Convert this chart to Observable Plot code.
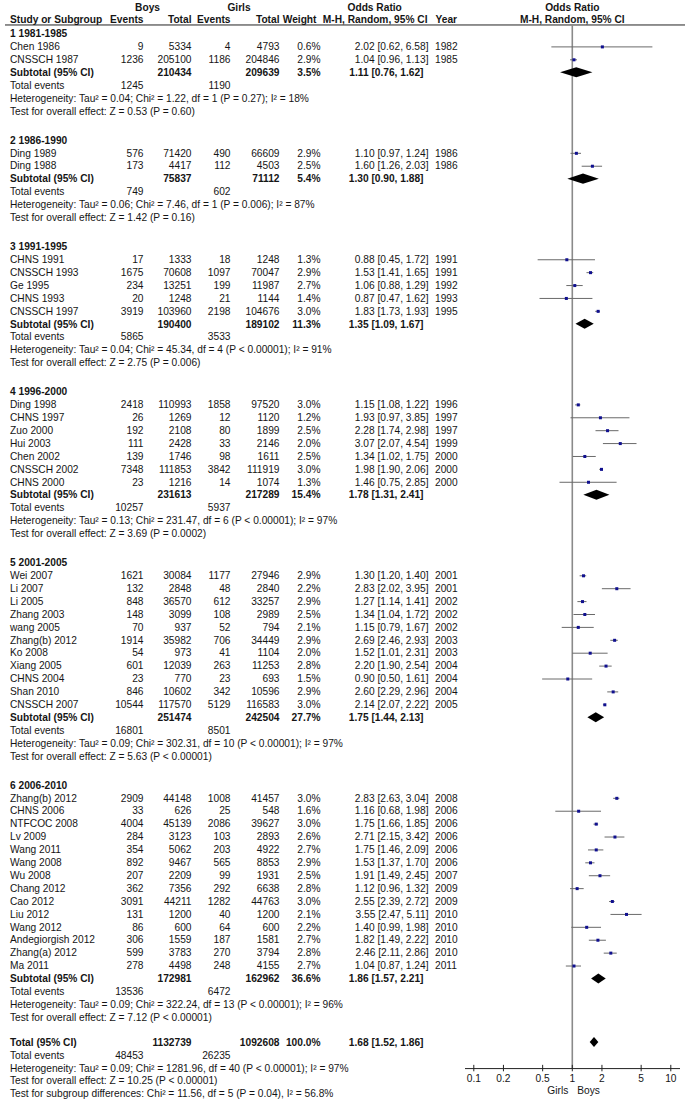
<!DOCTYPE html>
<html><head><meta charset="utf-8">
<script src="https://cdn.jsdelivr.net/npm/d3@7"></script>
<script src="https://cdn.jsdelivr.net/npm/@observablehq/plot@0.6"></script>
<style>body{margin:0;background:#fff;} #chart svg{display:block;}</style>
</head><body><div id="chart"></div>
<script>
// ---------- DATA ----------
const groupLabels = ["1 1981-1985","2 1986-1990","3 1991-1995","4 1996-2000","5 2001-2005","6 2006-2010"];
const studyGroup = [0,0, 1,1, 2,2,2,2,2, 3,3,3,3,3,3,3, 4,4,4,4,4,4,4,4,4,4,4, 5,5,5,5,5,5,5,5,5,5,5,5,5,5];
const studyNames = ["Chen 1986","CNSSCH 1987",
  "Ding 1989","Ding 1988",
  "CHNS 1991","CNSSCH 1993","Ge 1995","CHNS 1993","CNSSCH 1997",
  "Ding 1998","CHNS 1997","Zuo 2000","Hui 2003","Chen 2002","CNSSCH 2002","CHNS 2000",
  "Wei 2007","Li 2007","Li 2005","Zhang 2003","wang 2005","Zhang(b) 2012","Ko 2008","Xiang 2005","CHNS 2004","Shan 2010","CNSSCH 2007",
  "Zhang(b) 2012","CHNS 2006","NTFCOC 2008","Lv 2009","Wang 2011","Wang 2008","Wu 2008","Chang 2012","Cao 2012","Liu 2012","Wang 2012","Andegiorgish 2012","Zhang(a) 2012","Ma 2011"];
const boysEvents = [9,1236, 576,173, 17,1675,234,20,3919, 2418,26,192,111,139,7348,23,
  1621,132,848,148,70,1914,54,601,23,846,10544,
  2909,33,4004,284,354,892,207,362,3091,131,86,306,599,278];
const boysTotal = [5334,205100, 71420,4417, 1333,70608,13251,1248,103960, 110993,1269,2108,2428,1746,111853,1216,
  30084,2848,36570,3099,937,35982,973,12039,770,10602,117570,
  44148,626,45139,3123,5062,9467,2209,7356,44211,1200,600,1559,3783,4498];
const girlsEvents = [4,1186, 490,112, 18,1097,199,21,2198, 1858,12,80,33,98,3842,14,
  1177,48,612,108,52,706,41,263,23,342,5129,
  1008,25,2086,103,203,565,99,292,1282,40,64,187,270,248];
const girlsTotal = [4793,204846, 66609,4503, 1248,70047,11987,1144,104676, 97520,1120,1899,2146,1611,111919,1074,
  27946,2840,33257,2989,794,34449,1104,11253,693,10596,116583,
  41457,548,39627,2893,4922,8853,1931,6638,44763,1200,600,1581,3794,4155];
const weights = [0.6,2.9, 2.9,2.5, 1.3,2.9,2.7,1.4,3.0, 3.0,1.2,2.5,2.0,2.5,3.0,1.3,
  2.9,2.2,2.9,2.5,2.1,2.9,2.0,2.8,1.5,2.9,3.0,
  3.0,1.6,3.0,2.6,2.7,2.9,2.5,2.8,3.0,2.1,2.2,2.7,2.8,2.7];
const oddsRatio = [2.02,1.04, 1.10,1.60, 0.88,1.53,1.06,0.87,1.83, 1.15,1.93,2.28,3.07,1.34,1.98,1.46,
  1.30,2.83,1.27,1.34,1.15,2.69,1.52,2.20,0.90,2.60,2.14,
  2.83,1.16,1.75,2.71,1.75,1.53,1.91,1.12,2.55,3.55,1.40,1.82,2.46,1.04];
const ciLow = [0.62,0.96, 0.97,1.26, 0.45,1.41,0.88,0.47,1.73, 1.08,0.97,1.74,2.07,1.02,1.90,0.75,
  1.20,2.02,1.14,1.04,0.79,2.46,1.01,1.90,0.50,2.29,2.07,
  2.63,0.68,1.66,2.15,1.46,1.37,1.49,0.96,2.39,2.47,0.99,1.49,2.11,0.87];
const ciHigh = [6.58,1.13, 1.24,2.03, 1.72,1.65,1.29,1.62,1.93, 1.22,3.85,2.98,4.54,1.75,2.06,2.85,
  1.40,3.95,1.41,1.72,1.67,2.93,2.31,2.54,1.61,2.96,2.22,
  3.04,1.98,1.85,3.42,2.09,1.70,2.45,1.32,2.72,5.11,1.98,2.22,2.86,1.24];
const studyYears = [1982,1985, 1986,1986, 1991,1991,1992,1993,1995, 1996,1997,1997,1999,2000,2000,2000,
  2001,2001,2002,2002,2002,2003,2003,2004,2004,2004,2005,
  2008,2006,2006,2006,2006,2006,2007,2009,2009,2010,2010,2010,2010,2011];

const subBoysTotal = [210434,75837,190400,231613,251474,172981];
const subGirlsTotal = [209639,71112,189102,217289,242504,162962];
const subWeight = [3.5,5.4,11.3,15.4,27.7,36.6];
const subOR = [1.11,1.30,1.35,1.78,1.75,1.86];
const subLow = [0.76,0.90,1.09,1.31,1.44,1.57];
const subHigh = [1.62,1.88,1.67,2.41,2.13,2.21];
const subBoysEvents = [1245,749,5865,10257,16801,13536];
const subGirlsEvents = [1190,602,3533,5937,8501,6472];
const subHet = [
  "Heterogeneity: Tau² = 0.04; Chi² = 1.22, df = 1 (P = 0.27); I² = 18%",
  "Heterogeneity: Tau² = 0.06; Chi² = 7.46, df = 1 (P = 0.006); I² = 87%",
  "Heterogeneity: Tau² = 0.04; Chi² = 45.34, df = 4 (P < 0.00001); I² = 91%",
  "Heterogeneity: Tau² = 0.13; Chi² = 231.47, df = 6 (P < 0.00001); I² = 97%",
  "Heterogeneity: Tau² = 0.09; Chi² = 302.31, df = 10 (P < 0.00001); I² = 97%",
  "Heterogeneity: Tau² = 0.09; Chi² = 322.24, df = 13 (P < 0.00001); I² = 96%"];
const subTest = [
  "Test for overall effect: Z = 0.53 (P = 0.60)",
  "Test for overall effect: Z = 1.42 (P = 0.16)",
  "Test for overall effect: Z = 2.75 (P = 0.006)",
  "Test for overall effect: Z = 3.69 (P = 0.0002)",
  "Test for overall effect: Z = 5.63 (P < 0.00001)",
  "Test for overall effect: Z = 7.12 (P < 0.00001)"];

const totalTotals = [1132739, 1092608];      // boys, girls
const totalEvents = [48453, 26235];          // boys, girls
const totalWeight = [100.0];
const totalEstimate = [1.68, 1.52, 1.86];    // OR, low, high
const totalTexts = [
  "Heterogeneity: Tau² = 0.09; Chi² = 1281.96, df = 40 (P < 0.00001); I² = 97%",
  "Test for overall effect: Z = 10.25 (P < 0.00001)",
  "Test for subgroup differences: Chi² = 11.56, df = 5 (P = 0.04), I² = 56.8%"];

const tickValues = [0.1, 0.2, 0.5, 1, 2, 5, 10];
const tickLabels = ["0.1","0.2","0.5","1","2","5","10"];
const favourLabels = ["Girls", "Boys"];

// ---------- LAYOUT ----------
const W = 689, H = 1106;
const ROW = 12.9, TOP = 33.5;       // px per row, first row centre
const GAP = 1.25, LAST_GAP = 0.93;  // extra blank rows between blocks
const COLS = {
  name:[9.5,"start"], bEv:[143,"end"], bTot:[191,"end"], gEv:[230,"end"], gTot:[279,"end"],
  wt:[320,"end"], ci:[428,"end"], ciB:[423,"end"], year:[434.5,"start"],
  hBoys:[147,"middle"], hGirls:[238.5,"middle"], hOR:[347,"start"], hWt:[316,"end"], hCI:[427,"end"], hYear:[435,"start"]
};
const fmtCI = (o,l,h) => `${o.toFixed(2)} [${l.toFixed(2)}, ${h.toFixed(2)}]`;

const cells = [], forest = [], diamonds = [];
const H1 = -2.05, H2 = -1.08, HLINE = -0.70;
[["hBoys","Boys"],["hGirls","Girls"],["hOR","Odds Ratio"]].forEach(([c,t]) => cells.push({p:H1,col:c,text:t,bold:true}));
[["name","Study or Subgroup"],["bEv","Events"],["bTot","Total"],["gEv","Events"],["gTot","Total"],["hWt","Weight"],["hCI","M-H, Random, 95% CI"],["hYear","Year"]]
  .forEach(([c,t]) => cells.push({p:H2,col:c,text:t,bold:true}));

let p = 0;
groupLabels.forEach((g, gi) => {
  cells.push({p, col:"name", text:g, bold:true}); p++;
  studyNames.forEach((n, i) => {
    if (studyGroup[i] !== gi) return;
    cells.push({p,col:"name",text:n},{p,col:"bEv",text:String(boysEvents[i])},{p,col:"bTot",text:String(boysTotal[i])},
      {p,col:"gEv",text:String(girlsEvents[i])},{p,col:"gTot",text:String(girlsTotal[i])},{p,col:"wt",text:weights[i].toFixed(1)+"%"},
      {p,col:"ci",text:fmtCI(oddsRatio[i],ciLow[i],ciHigh[i])},{p,col:"year",text:String(studyYears[i])});
    forest.push({p, or:oddsRatio[i], lo:ciLow[i], hi:ciHigh[i]});
    p++;
  });
  cells.push({p,col:"name",text:"Subtotal (95% CI)",bold:true},{p,col:"bTot",text:String(subBoysTotal[gi]),bold:true},
    {p,col:"gTot",text:String(subGirlsTotal[gi]),bold:true},{p,col:"wt",text:subWeight[gi].toFixed(1)+"%",bold:true},
    {p,col:"ciB",text:fmtCI(subOR[gi],subLow[gi],subHigh[gi]),bold:true});
  diamonds.push({id:gi, p, est:subOR[gi], lo:subLow[gi], hi:subHigh[gi]});
  p++;
  cells.push({p,col:"name",text:"Total events"},{p,col:"bEv",text:String(subBoysEvents[gi])},{p,col:"gEv",text:String(subGirlsEvents[gi])}); p++;
  cells.push({p,col:"name",text:subHet[gi]}); p++;
  cells.push({p,col:"name",text:subTest[gi]}); p++;
  p += gi < groupLabels.length - 1 ? GAP : LAST_GAP;
});
const pTotal = p;
cells.push({p,col:"name",text:"Total (95% CI)",bold:true},{p,col:"bTot",text:String(totalTotals[0]),bold:true},
  {p,col:"gTot",text:String(totalTotals[1]),bold:true},{p,col:"wt",text:totalWeight[0].toFixed(1)+"%",bold:true},
  {p,col:"ciB",text:fmtCI(totalEstimate[0],totalEstimate[1],totalEstimate[2]),bold:true});
diamonds.push({id:99, p, est:totalEstimate[0], lo:totalEstimate[1], hi:totalEstimate[2]});
p++;
cells.push({p,col:"name",text:"Total events"},{p,col:"bEv",text:String(totalEvents[0])},{p,col:"gEv",text:String(totalEvents[1])}); p++;
totalTexts.forEach(t => { cells.push({p,col:"name",text:t}); p++; });
const pAxis = pTotal + 2.02;

const DH = 0.39; // diamond half height (rows)
const diamondPts = diamonds.flatMap(d => [
  {id:d.id, p:d.p - DH, x1:d.est, x2:d.est},
  {id:d.id, p:d.p, x1:d.lo, x2:d.hi},
  {id:d.id, p:d.p + DH, x1:d.est, x2:d.est}]);

const TXT = "#151515";
const textMarks = d3.groups(cells, d => d.col + "|" + (d.bold ? 1 : 0)).map(([k, arr]) => {
  const [col, b] = k.split("|");
  const [x, a] = COLS[col];
  return Plot.text(arr, {y:"p", text:"text", frameAnchor:"left", dx:x, textAnchor:a,
    fontWeight: b === "1" ? "bold" : "normal", fill: TXT});
});

const chart = Plot.plot({
  width: W, height: H, margin: 0,
  style: {fontFamily: "'Liberation Sans', Arial, sans-serif", fontSize: "10.2px", background: "#fff", color: TXT},
  x: {type: "log", domain: [0.1, 10], range: [473.3, 670.3], axis: null},
  y: {type: "linear", domain: [-TOP / ROW, (H - TOP) / ROW], range: [0, H], axis: null},
  marks: [
    Plot.ruleY([HLINE], {stroke: "#222", strokeWidth: 1, insetLeft: 5, insetRight: 4}),
    Plot.ruleX([1], {x: d => d, y1: HLINE, y2: pAxis, stroke: "#8a8a8a", strokeWidth: 1.6}),
    ...textMarks,
    Plot.text(["Odds Ratio"], {x: () => 1, y: H1, text: d => d, fontWeight: "bold", fill: TXT}),
    Plot.text(["M-H, Random, 95% CI"], {x: () => 1, y: H2, text: d => d, fontWeight: "bold", fill: TXT}),
    Plot.ruleY(forest, {y: "p", x1: "lo", x2: "hi", stroke: "#6a6a6a", strokeWidth: 1}),
    Plot.dot(forest, {x: "or", y: "p", symbol: "square", r: 1.7, fill: "#10108f", stroke: null}),
    Plot.areaX(diamondPts, {y: "p", x1: "x1", x2: "x2", z: "id", fill: "#000", curve: "linear"}),
    Plot.ruleY([pAxis], {stroke: "#222", strokeWidth: 1, insetLeft: 465, insetRight: 9}),
    Plot.ruleX(tickValues, {x: d => d, y1: pAxis - 0.25, y2: pAxis + 0.25, stroke: "#222"}),
    Plot.text(tickValues, {x: d => d, y: pAxis + 0.76, text: (d, i) => tickLabels[i], fill: TXT}),
    Plot.text([favourLabels[0]], {x: () => 1, y: pAxis + 1.68, text: d => d, textAnchor: "end", dx: -4, fill: TXT}),
    Plot.text([favourLabels[1]], {x: () => 1, y: pAxis + 1.68, text: d => d, textAnchor: "start", dx: 5, fill: TXT})
  ]
});
document.getElementById("chart").append(chart);
</script>
</body></html>
